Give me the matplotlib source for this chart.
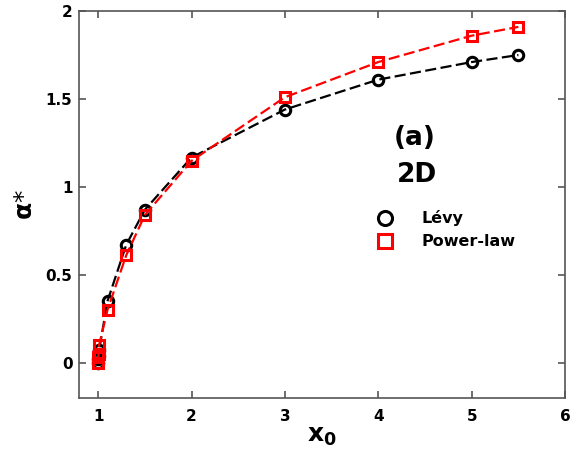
import numpy as np
import matplotlib
matplotlib.use('Agg')
import matplotlib.pyplot as plt
from matplotlib.ticker import FuncFormatter

# alpha* against x0, Levy and power-law cases (2D)
x0 = [1.0, 1.001, 1.005, 1.01, 1.1, 1.3, 1.5, 2.0, 3.0, 4.0, 5.0, 5.5]
alpha_levy = [0.0, 0.02, 0.04, 0.07, 0.35, 0.67, 0.87, 1.167, 1.44, 1.61, 1.71, 1.75]
alpha_power = [0.0, 0.03, 0.05, 0.10, 0.30, 0.61, 0.84, 1.148, 1.51, 1.71, 1.86, 1.91]

plt.rcParams['font.family'] = 'DejaVu Sans'
plt.rcParams['font.weight'] = 'bold'

fig = plt.figure(figsize=(5.76, 4.61), dpi=100)
ax = fig.add_axes([0.138, 0.137, 0.843, 0.839])

dash = (0, (5, 2))
ax.plot(x0, alpha_levy, ls=dash, color='black', lw=1.6,
        marker='o', ms=7.5, mfc='none', mec='black', mew=2.2, label='Lévy')
ax.plot(x0, alpha_power, ls=dash, color='red', lw=1.6,
        marker='s', ms=7.5, mfc='none', mec='red', mew=2.2, label='Power-law')

ax.set_xlim(0.8, 6)
ax.set_ylim(-0.2, 2)
ax.set_xticks([1, 2, 3, 4, 5, 6])
ax.set_yticks([0, 0.5, 1, 1.5, 2])
ax.yaxis.set_major_formatter(FuncFormatter(lambda v, p: '{:g}'.format(v)))

for s in ax.spines.values():
    s.set_color('#555555')
    s.set_linewidth(1.2)
ax.tick_params(direction='in', length=5, width=1.2, color='#555555',
               top=True, right=True, labelsize=11)
ax.tick_params(axis='x', pad=8)
ax.tick_params(axis='y', pad=5)
for lab in ax.get_xticklabels() + ax.get_yticklabels():
    lab.set_fontweight('bold')

ax.set_xlabel(r'$\mathbf{x_0}$', fontsize=18, labelpad=0)
ax.set_ylabel(r'$\mathbf{\alpha}$*', fontsize=18, labelpad=6)

ax.text(4.39, 1.28, '(a)', fontsize=19, fontweight='bold', ha='center', va='center')
ax.text(4.41, 1.07, '2D', fontsize=19, fontweight='bold', ha='center', va='center')

leg = ax.legend(loc='center left', bbox_to_anchor=(0.596, 0.434), borderaxespad=0,
                frameon=False, handlelength=1.2, handletextpad=1.7, labelspacing=0.5,
                markerscale=1.35, prop={'weight': 'bold', 'size': 11.5})
for h in leg.legend_handles:
    h.set_linestyle('none')

fig.savefig('out.png', dpi=100)
